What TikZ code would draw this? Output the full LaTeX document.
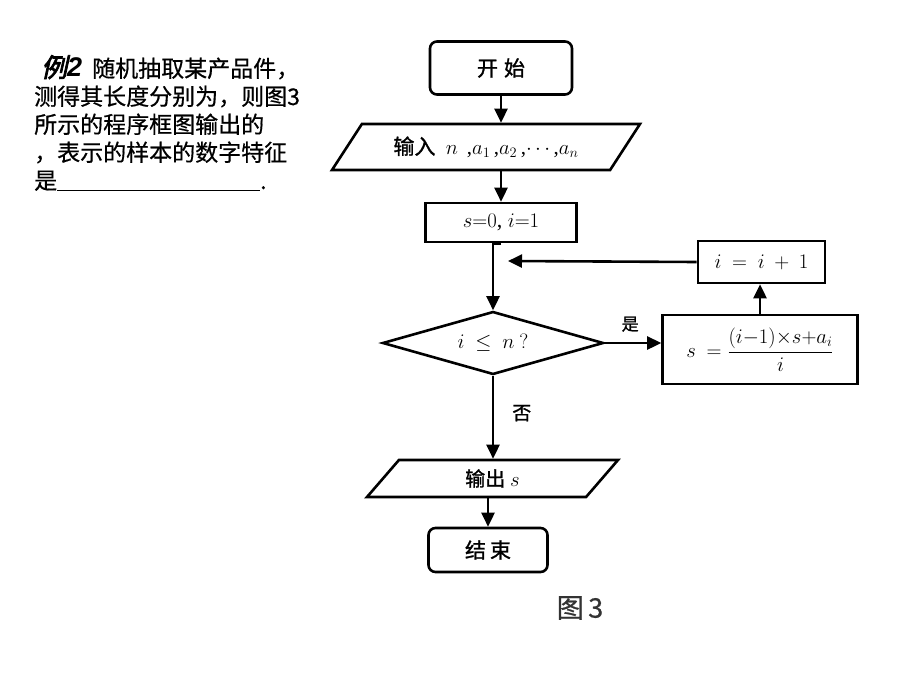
\documentclass[tikz,border=0pt]{standalone}
\usepackage{fontspec}
\setmainfont{Liberation Serif}
\newfontfamily\cjk[FakeBold=1.2]{Noto Sans CJK SC}
\newfontfamily\cjkp[FakeBold=0.6]{Noto Sans CJK SC}
\newfontfamily\cjkbi[FakeSlant=0.22,FakeBold=3]{Noto Sans CJK SC}
\newfontfamily\arial{Liberation Sans}
\usetikzlibrary{shapes.geometric,arrows.meta}
\tikzset{
  flow/.style={draw, line width=2.6pt, inner sep=0pt, font=\fontsize{20}{22}\selectfont},
  term/.style={flow, rounded corners=7pt, font=\fontsize{21}{23}\selectfont\cjk},
  proc/.style={flow},
  io/.style={flow, trapezium, trapezium stretches body=true},
  dec/.style={flow, diamond, aspect=3.5},
  arr/.style={line width=2.6pt, -{Triangle[length=14pt,width=13pt]}},
  lbl/.style={font=\fontsize{17}{19}\selectfont\cjk, inner sep=0pt},
  para/.style={anchor=base west, inner sep=0pt, font=\fontsize{23}{25}\selectfont\cjkp}
}
\begin{document}
\begin{tikzpicture}[x=1pt,y=-1pt]
\useasboundingbox[fill=white] (0,0) rectangle (920,690);

% problem text
\node[para] (t1) at (41,77) {{\fontsize{26}{26}\selectfont\cjkbi 例}{\fontsize{27}{27}\selectfont\arial\bfseries\itshape 2}\hspace{10pt}随机抽取某产品件，};
\node[para] (t2) at (34,105) {测得其长度分别为，则图3};
\node[para] (t3) at (34,133) {所示的程序框图输出的};
\node[para] (t4) at (34,161) {，表示的样本的数字特征};
\node[para] (t5) at (34,189) {是\rule[-2pt]{203pt}{1pt}.};

% flowchart
\node[term, minimum width=142pt, minimum height=53pt] (start) at (501,68) {开\hspace{6pt}始};
\node[io, trapezium left angle=35, trapezium right angle=145,
      minimum width=308pt, minimum height=46pt, font=\fontsize{21}{23}\selectfont] (in) at (486,147)
      {{\cjk 输入}\ \ $n$\ \,,$a_1$\,,$a_2$\,,$\cdots$\,,$a_n$};
\node[proc, minimum width=151pt, minimum height=39pt, font=\fontsize{22}{24}\selectfont] (init) at (501,222.5) {$s{=}0$,\ $i{=}1$};
\node[dec, minimum width=221pt, minimum height=63pt] (cond) at (493,343) {$i\ \le\ n\ ?$};
\node[proc, minimum width=195pt, minimum height=69pt] (calc) at (760,349.5)
      {$s\ =\displaystyle\frac{(i{-}1){\times}s{+}a_i}{i}$};
\node[proc, minimum width=127pt, minimum height=42pt] (inc) at (761.5,262) {$i\ =\ i\ +\ 1$};
\node[io, trapezium left angle=30, trapezium right angle=150,
      minimum width=251pt, minimum height=37pt] (out) at (492.5,478.5) {{\cjk 输出}\ $s$};
\node[term, minimum width=119pt, minimum height=44pt] (end) at (488,550) {结\hspace{4pt}束};

\coordinate (merge) at (508,261);

\draw[arr] (start.south) -- (start.south |- in.north);
\draw[arr] (init.south |- in.south) -- (init.north);
\draw[arr] (init.south) -- (init.south -| cond.north) -- (cond.north);
\draw[arr] (inc.west) -- (merge);
\draw[arr] (cond.east) -- (cond.east -| calc.west) node[lbl, pos=0.45, above=10pt] (yes) {是};
\draw[arr] (calc.north) -- (calc.north |- inc.south);
\draw[arr] (cond.south) -- (cond.south |- out.north) node[lbl, font=\fontsize{19}{21}\selectfont\cjk, pos=0.45, right=18pt] (no) {否};
\draw[arr] (out.south -| end.north) -- (end.north);

\node[font=\fontsize{27}{29}\selectfont\cjkp, text=black!80] (fig) at (580,608) {图\,3};
\end{tikzpicture}
\end{document}
